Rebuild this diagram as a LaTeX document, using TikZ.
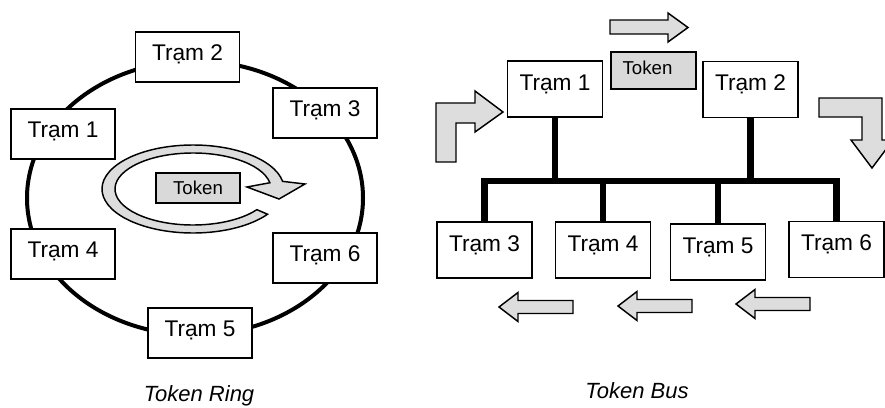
\documentclass[tikz,border=0pt]{standalone}
\usepackage{fontspec}
\setmainfont{Liberation Sans}
\usetikzlibrary{calc}

\definecolor{tokengray}{RGB}{217,217,217}
\definecolor{arrowgray}{RGB}{221,221,221}

\tikzset{
  station/.style={draw, line width=1.1pt, fill=white, inner sep=0pt,
    minimum width=78pt, minimum height=37.5pt,
    text height=12pt, text depth=7.5pt, font=\fontsize{17}{20}\selectfont},
  busstation/.style={station, minimum width=71pt, minimum height=42pt, text depth=10.5pt},
  tokenbox/.style={draw, line width=1.1pt, fill=tokengray, inner sep=0pt,
    text height=10pt, text depth=0pt, font=\fontsize{14}{17}\selectfont},
  ring/.style={line width=3pt},
  bus/.style={line width=5pt},
  garrow/.style={draw, line width=1.1pt, fill=arrowgray},
  caption/.style={anchor=base, font=\itshape\fontsize{16.5}{20}\selectfont},
}

\begin{document}
\begin{tikzpicture}[x=0.75pt, y=-0.75pt]
    \useasboundingbox (0,0) rectangle (885,407);
    \clip (0,0) rectangle (885,407);
    % Token ring part
    \draw[ring] (195,198) ellipse [x radius=168, y radius=137];
    \coordinate (swirl) at (193,189);
    \draw[garrow] (swirl) ++(35:91 and 44)
      arc[start angle=35, end angle=350, x radius=91, y radius=44]
      -- (305,184) -- (279,199) -- (247,187) -- ($(swirl)+(350:78 and 36)$)
      arc[start angle=350, end angle=35, x radius=78, y radius=36] -- cycle;
    \node[tokenbox, minimum width=63pt, minimum height=22.5pt] (tokr) at (198,188) {Token};
    \foreach \n/\p in {1/{63,134}, 2/{187.5,57}, 3/{325,113}, 4/{63,254}, 5/{200,333}, 6/{325,258}}{
      \node[station] (r\n) at (\p) {Trạm \n};
    }
    \node[caption] (ringcap) at (199,401) {Token Ring};

    % Token bus part
    \foreach \n/\p in {1/{555,89}, 2/{750.5,89.5}, 3/{484.5,250}, 4/{603,250}, 5/{718,252}, 6/{836.5,249.5}}{
      \node[busstation] (b\n) at (\p) {Trạm \n};
    }
    \coordinate (bus) at (660,181);
    \draw[bus] (b3.north) |- (b6.north |- bus) -- (b6.north);
    \foreach \n in {1,2}{
      \draw[bus] (b\n.south) -- (b\n.south |- bus);
    }
    \foreach \n in {4,5}{
      \draw[bus] (b\n.north) -- (b\n.north |- bus);
    }
    \node[tokenbox, minimum width=64pt, minimum height=28pt, text depth=3.75pt] (tokb) at (653.5,70.5) {Token\kern9pt};
    % Passing arrows
    \draw[garrow] (610,20) -- (668,20) -- (668,13) -- (688,27.5) -- (668,42) -- (668,34) -- (610,34) -- cycle;
    \draw[garrow] (436,162) -- (436,103) -- (475,103) -- (475,91) -- (503,112) -- (475,132) -- (475,123) -- (456,123) -- (456,162) -- cycle;
    \draw[garrow] (819,98) -- (882,98) -- (882,140) -- (893,140) -- (872,168) -- (851,140) -- (862,140) -- (862,117) -- (819,117) -- cycle;
    \foreach \x/\y in {499/307, 618/306, 736/304}{
      \draw[garrow] (\x,\y) -- ++(19,-14.5) -- ++(0,8) -- ++(55,0) -- ++(0,13) -- ++(-55,0) -- ++(0,8) -- cycle;
    }
    \node[caption] (buscap) at (637,398) {Token Bus};
\end{tikzpicture}
\end{document}
